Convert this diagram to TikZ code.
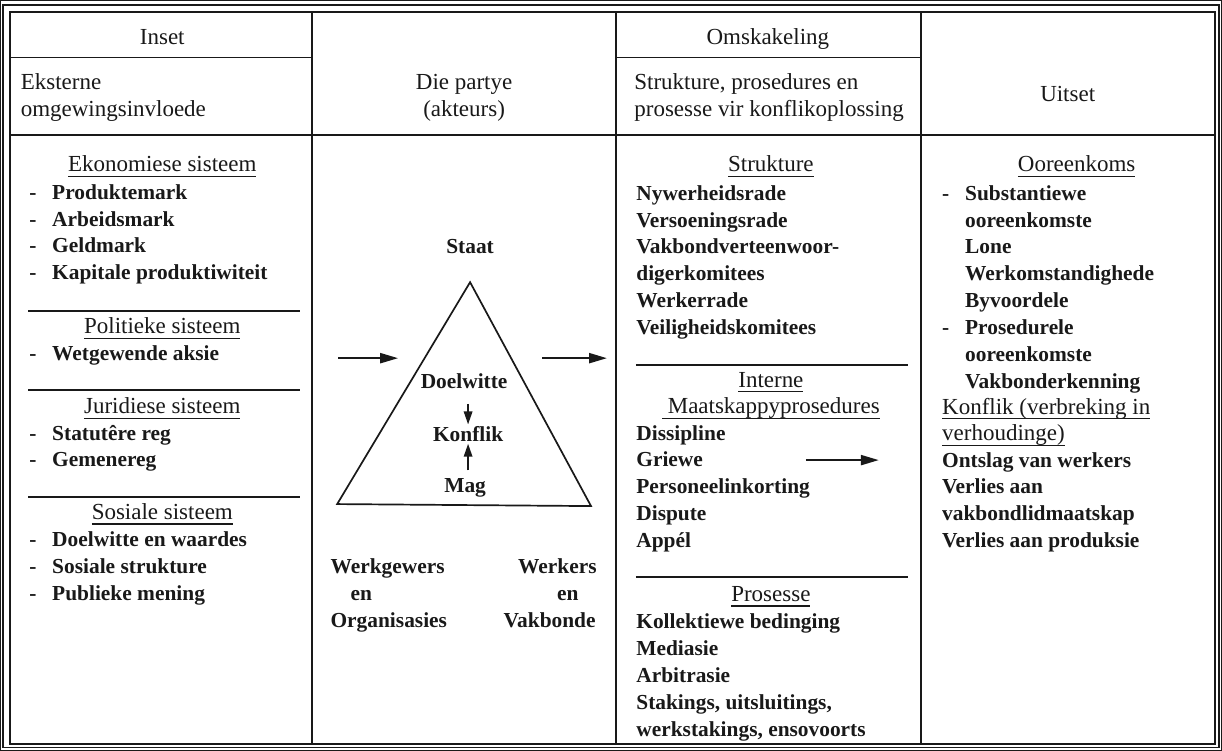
\documentclass[tikz,border=0pt]{standalone}
\usepackage{fontspec}
\setmainfont{Liberation Serif}
\usetikzlibrary{arrows.meta}
\definecolor{ink}{gray}{0.1}

% dash bullet with hanging text, and the matching indent for follow-on lines
\newcommand\dsh{\makebox[11.5pt][l]{-}}
\newcommand\ind{\hspace*{11.5pt}}
% underline set a little below the baseline
\newcommand\uln[1]{\setbox0\hbox{#1}\rlap{\rule[-2.7pt]{\wd0}{0.75pt}}\box0}

\begin{document}
\begin{tikzpicture}[x=0.5pt,y=-0.5pt,
  every path/.style={draw=ink},
  outer/.style={line width=0.7pt},
  frame/.style={line width=1pt},
  rule/.style={line width=0.85pt},
  sep/.style={line width=1.15pt},
  hd/.style={font=\fontsize{11.5}{13.45}\selectfont, inner sep=0pt, text=ink},
  it/.style={font=\fontsize{10.7}{13.45}\selectfont\bfseries, inner sep=0pt, text=ink},
  hblk/.style={hd, align=left, anchor=north west},
  cblk/.style={hd, align=center, anchor=north},
  iblk/.style={it, align=left, anchor=north west},
  harr/.style={line width=1.1pt, -{Triangle[length=9pt,width=5pt]}},
  varr/.style={line width=0.95pt, -{Triangle[length=6.5pt,width=4.2pt]}},
  tri/.style={line width=0.85pt}
]
\fill[white, draw=none] (0,0) rectangle (1222,750);
\useasboundingbox (0,0) rectangle (1222,750);

% ---- frame and grid ----
\draw[outer] (2.5,4.5) rectangle (1219.5,747.5);
\draw[frame] (9.5,11.5) rectangle (1215,744.5);
\draw[rule] (312,11.5) -- (312,744.5);
\draw[rule] (616,11.5) -- (616,744.5);
\draw[rule] (921,11.5) -- (921,744.5);
\draw[rule] (9.5,57) -- (312,57);
\draw[rule] (616,57) -- (921,57);
\draw[rule] (9.5,135) -- (1215,135);

% ---- header rows ----
\node[hd, anchor=base] (hInset) at (162,44.5) {Inset};
\node[hd, anchor=base] (hOmsk) at (768,44.5) {Omskakeling};
\node[hblk] (hEks) at (20,69.7) {\strut Eksterne\\omgewingsinvloede};
\node[cblk] (hPart) at (464,69.7) {\strut Die partye\\(akteurs)};
\node[hblk] (hStruk) at (634,69.7) {\strut Strukture, prosedures en\\prosesse vir konflikoplossing};
\node[hd, anchor=base] (hUit) at (1068,101.5) {Uitset};

% ---- column 1: external influences ----
\node[hd, anchor=base] (ekoH) at (162,171.5) {\uln{Ekonomiese sisteem}};
\node[iblk] (ekoL) at (28.5,179.7) {\strut\dsh Produktemark\\\dsh Arbeidsmark\\\dsh Geldmark\\\dsh Kapitale produktiwiteit};
\draw[sep] (28,311) -- (300,311);
\node[hd, anchor=base] (polH) at (162,333.5) {\uln{Politieke sisteem}};
\node[iblk] (polL) at (28.5,340.7) {\strut\dsh Wetgewende aksie};
\draw[sep] (28,390) -- (300,390);
\node[hd, anchor=base] (jurH) at (162,413.5) {\uln{Juridiese sisteem}};
\node[iblk] (jurL) at (28.5,420.7) {\strut\dsh Statutêre reg\\\dsh Gemenereg};
\draw[sep] (28,497) -- (300,497);
\node[hd, anchor=base] (sosH) at (162,519.5) {\uln{Sosiale sisteem}};
\node[iblk] (sosL) at (28.5,527.7) {\strut\dsh Doelwitte en waardes\\\dsh Sosiale strukture\\\dsh Publieke mening};

% ---- column 2: the parties ----
\node[it, anchor=base] (staat) at (470,253.5) {Staat};
\draw[tri] (470,282) -- (337,504) -- (591,506) -- cycle;
\node[it, anchor=base] (doel) at (464,388) {Doelwitte};
\node[it, anchor=base] (konf) at (468,441) {Konflik};
\node[it, anchor=base] (mag) at (465,492) {Mag};
\draw[varr, shorten <=7.5pt, shorten >=0.6pt] (konf.north |- doel.south) -- (konf.north);
\draw[varr, shorten <=3.6pt, shorten >=1pt] (konf.south |- mag.north) -- (konf.south);
\coordinate (inA) at (338,358);
\coordinate (inB) at (398,358);
\coordinate (outA) at (542,358);
\coordinate (outB) at (607,358);
\draw[harr] (inA) -- (inB);
\draw[harr] (outA) -- (outB);
\node[it, anchor=base west] (wg1) at (330,573.5) {Werkgewers};
\node[it, anchor=base west] (wg2) at (350,600.4) {en};
\node[it, anchor=base west] (wg3) at (330,627.3) {Organisasies};
\node[it, anchor=base east] (wk1) at (597,573.5) {Werkers};
\node[it, anchor=base east] (wk2) at (579,600.4) {en};
\node[it, anchor=base east] (wk3) at (596,627.3) {Vakbonde};

% ---- column 3: conversion ----
\node[hd, anchor=base] (strH) at (771,171.5) {\uln{Strukture}};
\node[iblk] (strL) at (636,180.7) {\strut Nywerheidsrade\\Versoeningsrade\\Vakbondverteenwoor-\\digerkomitees\\Werkerrade\\Veiligheidskomitees};
\draw[sep] (636,365) -- (908,365);
\node[cblk] (intH) at (771,367.7) {\strut\uln{Interne}\\\uln{\ Maatskappyprosedures}};
\node[iblk] (intL) at (636,420.7) {\strut Dissipline\\Griewe\\Personeelinkorting\\Dispute\\Appél};
\coordinate (grA) at (806,460);
\coordinate (grB) at (879,460);
\draw[harr] (grA) -- (grB);
\draw[sep] (636,577) -- (908,577);
\node[hd, anchor=base] (proH) at (771,601.5) {\uln{Prosesse}};
\node[iblk] (proL) at (636,609.7) {\strut Kollektiewe bedinging\\Mediasie\\Arbitrasie\\Stakings, uitsluitings,\\werkstakings, ensovoorts};

% ---- column 4: output ----
\node[hd, anchor=base] (ooH) at (1077,171.5) {\uln{Ooreenkoms}};
\node[iblk] (ooL) at (942,180.7) {\strut\dsh Substantiewe\\\ind ooreenkomste\\\ind Lone\\\ind Werkomstandighede\\\ind Byvoordele\\\dsh Prosedurele\\\ind ooreenkomste\\\ind Vakbonderkenning};
\node[hblk] (konH) at (942,394.7) {\strut\uln{Konflik (verbreking in}\\\uln{verhoudinge)}};
\node[iblk] (konL) at (942,447.7) {\strut Ontslag van werkers\\Verlies aan\\vakbondlidmaatskap\\Verlies aan produksie};
\end{tikzpicture}
\end{document}
